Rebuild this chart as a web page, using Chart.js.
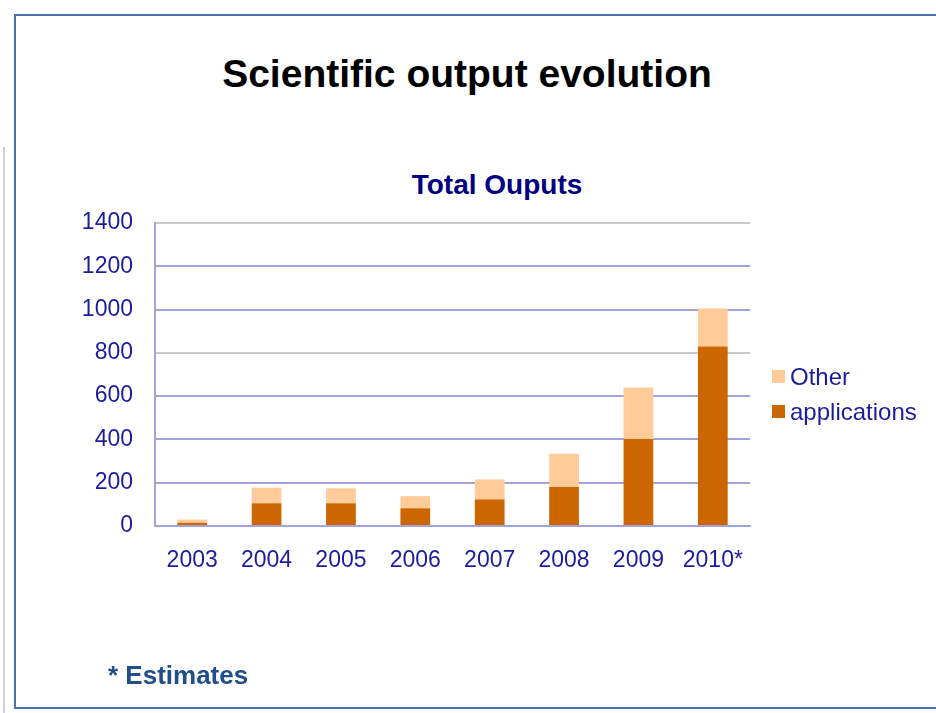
<!DOCTYPE html>
<html>
<head>
<meta charset="utf-8">
<script src="https://cdn.jsdelivr.net/npm/chart.js@4.4.1/dist/chart.umd.min.js"></script>
<style>
  html, body { margin: 0; padding: 0; background: #ffffff; }
  body { width: 936px; height: 713px; position: relative; overflow: hidden; font-family: "Liberation Sans", Arial, sans-serif; }
  #frame { position: absolute; left: 14px; top: 14px; width: 940px; height: 695px; border: 2px solid #4a72a8; box-sizing: border-box; }
  #grayline { position: absolute; left: 3px; top: 147px; width: 2px; height: 566px; background: #cfcfcf; }
  #title { position: absolute; left: 0; width: 934px; top: 54px; text-align: center; font-weight: bold; font-size: 39px; line-height: 39px; color: #000; }
  #subtitle { position: absolute; left: 397px; width: 200px; top: 171px; text-align: center; font-weight: bold; font-size: 28px; line-height: 28px; color: #000080; }
  #note { position: absolute; left: 108px; top: 662px; font-weight: bold; font-size: 26px; line-height: 26px; color: #1f4e8a; }
  #chartwrap { position: absolute; left: 0; top: 0; width: 936px; height: 713px; }
  #legend { position: absolute; left: 772px; top: 359px; }
  .li { display: flex; align-items: center; height: 35px; font-size: 24px; color: #1c1c9c; }
  .sw { width: 13px; height: 13px; margin-right: 5px; }
</style>
</head>
<body>
<div id="grayline"></div>
<div id="frame"></div>
<div id="title">Scientific output evolution</div>
<div id="subtitle">Total Ouputs</div>
<div id="chartwrap"><canvas id="c" width="936" height="713"></canvas></div>
<div id="legend"></div>
<div id="note">* Estimates</div>
<script>
const years = ["2003", "2004", "2005", "2006", "2007", "2008", "2009", "2010*"];
const applications = [15, 105, 105, 82, 123, 180, 402, 829];
const other = [15, 72, 69, 56, 92, 154, 238, 176];
const yTicks = [0, 200, 400, 600, 800, 1000, 1200, 1400];

const seriesNames = ["applications", "Other"];
const seriesColors = ["#cc6600", "#ffcc99"];

const tickColor = "#1c1c9c";
const gridBlue = "#a3a3d9";
const gridGray = "#c9c9c9";

const chart = new Chart(document.getElementById("c"), {
  type: "bar",
  data: {
    labels: years,
    datasets: [
      { label: seriesNames[0], data: applications, backgroundColor: seriesColors[0], borderWidth: 0, barPercentage: 0.4, categoryPercentage: 1.0 },
      { label: seriesNames[1], data: other, backgroundColor: seriesColors[1], borderWidth: 0, barPercentage: 0.4, categoryPercentage: 1.0 }
    ]
  },
  options: {
    responsive: false,
    animation: false,
    devicePixelRatio: 1,
    layout: { padding: { left: 0, right: 186, top: 223, bottom: 0 } },
    plugins: { legend: { display: false }, title: { display: false }, tooltip: { enabled: false } },
    scales: {
      x: {
        stacked: true,
        grid: { display: false, drawTicks: false },
        border: { display: true, color: gridBlue, width: 2 },
        ticks: { color: tickColor, font: { family: "Liberation Sans", size: 23 }, padding: 21, maxRotation: 0 },
        afterFit: (s) => { s.height = 713 - 526; }
      },
      y: {
        stacked: true,
        min: 0, max: 1400,
        afterBuildTicks: (s) => { s.ticks = yTicks.map(v => ({ value: v })); },
        grid: {
          drawTicks: false,
          lineWidth: 2,
          color: (ctx) => (ctx.tick && (ctx.tick.value === 800 || ctx.tick.value === 1400)) ? gridGray : gridBlue
        },
        border: { display: true, color: gridBlue, width: 2 },
        ticks: { color: tickColor, font: { family: "Liberation Sans", size: 23 }, padding: 22, callback: (v) => String(v) },
        afterFit: (s) => { s.width = 155; }
      }
    }
  }
});

// legend built from dataset definitions (reverse order: top series first)
const lg = document.getElementById("legend");
chart.data.datasets.slice().reverse().forEach(ds => {
  const row = document.createElement("div");
  row.className = "li";
  const sw = document.createElement("span");
  sw.className = "sw";
  sw.style.background = ds.backgroundColor;
  const tx = document.createElement("span");
  tx.textContent = ds.label;
  row.appendChild(sw); row.appendChild(tx);
  lg.appendChild(row);
});
</script>
</body>
</html>
